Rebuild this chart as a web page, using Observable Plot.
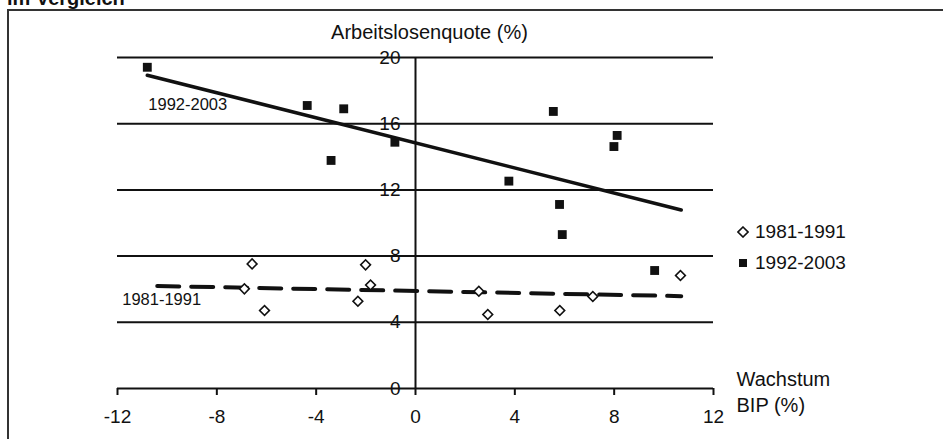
<!DOCTYPE html>
<html>
<head>
<meta charset="utf-8">
<script src="https://cdn.jsdelivr.net/npm/d3@7"></script>
<script src="https://cdn.jsdelivr.net/npm/@observablehq/plot@0.6"></script>
<style>
  html, body { margin: 0; padding: 0; background: #fff; }
  #wrap { position: relative; width: 943px; height: 439px; overflow: hidden; font-family: "Liberation Sans", Arial, sans-serif; color: #111; }
  #title { position: absolute; left: 7px; top: -12px; font-size: 20px; line-height: 20px; font-weight: bold; white-space: nowrap; }
  #box { position: absolute; left: 7px; top: 9px; width: 1000px; height: 500px; border-top: 2px solid #333; border-left: 2px solid #333; pointer-events: none; }
  #chart { position: absolute; left: 0; top: 0; }
  .leg { position: absolute; left: 737px; font-size: 19px; line-height: 20px; white-space: nowrap; display: flex; align-items: center; }
  .leg svg { margin-right: 6px; }
</style>
</head>
<body>
<div id="wrap">
  <div id="title">im Vergleich</div>
  <div id="box"></div>
  <div id="chart"></div>
  <div class="leg" style="top:222px"><svg width="12" height="12"><path d="M6,1 L11,6 L6,11 L1,6 Z" fill="#fff" stroke="#111" stroke-width="1.6"/></svg>1981-1991</div>
  <div class="leg" style="top:253px"><svg width="12" height="12"><rect x="2" y="2" width="8" height="8" fill="#111"/></svg>1992-2003</div>
</div>
<script>
// Series 1981-1991 (diamonds): GDP growth (%) vs unemployment rate (%)
const growth8191 = [-6.58, -6.89, -6.08, -2.01, -1.81, -2.32, 2.55, 2.91, 5.81, 7.14, 10.67];
const unemp8191  = [7.53, 6.02, 4.71, 7.47, 6.26, 5.27, 5.88, 4.47, 4.71, 5.56, 6.83];
// Series 1992-2003 (squares)
const growth9203 = [-10.8, -4.36, -2.89, -3.4, -0.83, 5.55, 8.12, 7.99, 3.76, 5.8, 5.91, 9.63];
const unemp9203  = [19.41, 17.1, 16.9, 13.78, 14.88, 16.74, 15.29, 14.62, 12.53, 11.12, 9.3, 7.13];
// Trendline extents (x range over which each trendline is drawn)
const trendExtent8191 = [-10.4, 10.7];
const trendExtent9203 = [-10.8, 10.7];
// Axis ticks
const xTicks = [-12, -8, -4, 0, 4, 8, 12];
const yTicks = [0, 4, 8, 12, 16, 20];
const labels = { s8191: "1981-1991", s9203: "1992-2003", yTitle: "Arbeitslosenquote (%)", xTitle: "Wachstum\nBIP (%)" };

const pts8191 = growth8191.map((g, i) => ({x: g, y: unemp8191[i]}));
const pts9203 = growth9203.map((g, i) => ({x: g, y: unemp9203[i]}));

function regression(xs, ys) {
  const mx = d3.mean(xs), my = d3.mean(ys);
  const sxy = d3.sum(xs, (x, i) => (x - mx) * (ys[i] - my));
  const sxx = d3.sum(xs, x => (x - mx) ** 2);
  const b = sxy / sxx, a = my - b * mx;
  return x => a + b * x;
}
const f8191 = regression(growth8191, unemp8191);
const f9203 = regression(growth9203, unemp9203);
const trend8191 = trendExtent8191.map(x => ({x, y: f8191(x)}));
const trend9203 = trendExtent9203.map(x => ({x, y: f9203(x)}));

const ink = "#111";
const chart = Plot.plot({
  width: 943,
  height: 439,
  marginLeft: 117,
  marginRight: 230,
  marginTop: 57,
  marginBottom: 51,
  style: { fontFamily: "Liberation Sans, Arial, sans-serif", color: ink, background: "transparent", overflow: "visible" },
  x: { domain: [-12, 12] },
  y: { domain: [0, 20], axis: null },
  marks: [
    Plot.ruleY(yTicks, { stroke: ink, strokeWidth: 2 }),
    Plot.ruleX([0], { stroke: ink, strokeWidth: 2 }),
    Plot.axisX({ ticks: xTicks, tickFormat: d => String(d), tickSize: 7, tickPadding: 14, fontSize: 19, label: null, stroke: ink, strokeWidth: 2, fill: ink }),
    Plot.text(yTicks, { x: 0, y: d => d, text: d => String(d), dx: -15, textAnchor: "end", fontSize: 19, fill: ink }),
    Plot.line(trend9203, { x: "x", y: "y", stroke: ink, strokeWidth: 3.5 }),
    Plot.line(trend8191, { x: "x", y: "y", stroke: ink, strokeWidth: 4, strokeDasharray: "22,12" }),
    Plot.dot(pts9203, { x: "x", y: "y", symbol: "square", r: 5, fill: ink, stroke: "none" }),
    Plot.dot(pts8191, { x: "x", y: "y", symbol: "square", r: 3.9, rotate: 45, fill: "#fff", stroke: ink, strokeWidth: 1.6 }),
    Plot.text([trend9203[0]], { x: "x", y: "y", text: () => labels.s9203, dx: 1, dy: 29, textAnchor: "start", fontSize: 16.5, fill: ink }),
    Plot.text([trend8191[0]], { x: "x", y: "y", text: () => labels.s8191, dx: -35, dy: 14, textAnchor: "start", fontSize: 16.5, fill: ink }),
    Plot.text([labels.yTitle], { frameAnchor: "top", lineAnchor: "middle", dx: 14, dy: -25, fontSize: 20, fill: ink }),
    Plot.text([labels.xTitle], { frameAnchor: "bottom-right", dx: 23, dy: 2, textAnchor: "start", lineAnchor: "middle", lineHeight: 1.3, fontSize: 20, fill: ink })
  ]
});
document.getElementById("chart").appendChild(chart);
</script>
</body>
</html>
